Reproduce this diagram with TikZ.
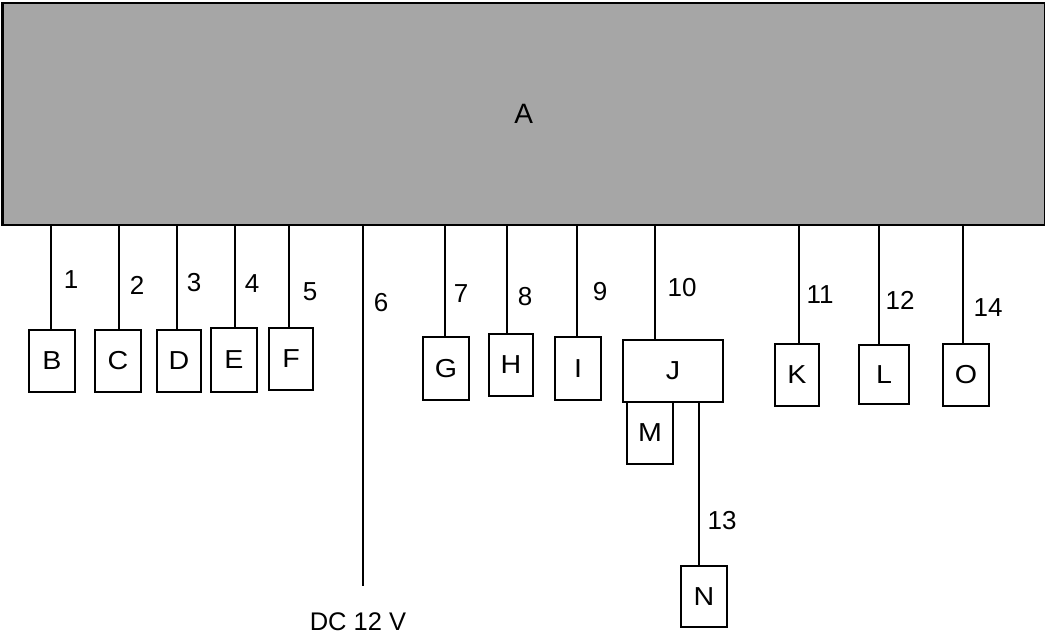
\documentclass[tikz,border=0pt]{standalone}
\usepackage{fontspec}
\setmainfont{Liberation Sans}
\newfontfamily\boxfont[FakeStretch=1.1]{Liberation Sans}
\definecolor{boxgray}{HTML}{A6A6A6}
\tikzset{
  wire/.style={line width=2pt},
  unit/.style={draw, line width=2pt, fill=white, inner sep=0pt,
    font=\boxfont\fontsize{26}{26}\selectfont},
  num/.style={inner sep=0pt, font=\fontsize{26}{26}\selectfont},
  supply/.style={inner sep=0pt, font=\fontsize{25.5}{25.5}\selectfont},
  mainbox/.style={draw, line width=2.2pt, fill=boxgray, inner sep=0pt,
    font=\fontsize{28}{28}\selectfont}
}
\begin{document}
\begin{tikzpicture}[x=1pt,y=-1pt]
\useasboundingbox (0,0) rectangle (1045,635);
\node[mainbox, anchor=north west, minimum width=1042.3pt, minimum height=222pt] (A) at (1.5,1.5) {A};

% boxes
\node[unit, minimum width=46pt, minimum height=62pt] (B) at (52,361) {B};
\node[unit, minimum width=46pt, minimum height=62pt] (C) at (118,361) {C};
\node[unit, minimum width=44pt, minimum height=62pt] (D) at (179,361) {D};
\node[unit, minimum width=46pt, minimum height=64pt] (E) at (234,360) {E};
\node[unit, minimum width=44pt, minimum height=62pt] (F) at (291,359) {F};
\node[unit, minimum width=46pt, minimum height=63pt] (G) at (446,368.5) {G};
\node[unit, minimum width=44pt, minimum height=62pt] (H) at (511,365) {H};
\node[unit, minimum width=46pt, minimum height=63pt] (I) at (578,368.5) {I};
\node[unit, minimum width=100pt, minimum height=62pt] (J) at (673,371) {J};
\node[unit, minimum width=46pt, minimum height=62pt] (M) at (650,433) {M};
\node[unit, minimum width=46pt, minimum height=61pt] (N) at (704,596.5) {N};
\node[unit, minimum width=44pt, minimum height=62pt] (K) at (797,375) {K};
\node[unit, minimum width=50pt, minimum height=59pt] (L) at (884,374.5) {L};
\node[unit, minimum width=46pt, minimum height=62pt] (O) at (966,375) {O};

% connector anchor points
\coordinate (pB) at ([xshift=-1pt]B.north);
\coordinate (pC) at ([xshift=1pt]C.north);
\coordinate (pD) at ([xshift=-2pt]D.north);
\coordinate (pE) at ([xshift=1pt]E.north);
\coordinate (pF) at ([xshift=-2pt]F.north);
\coordinate (pG) at ([xshift=-1pt]G.north);
\coordinate (pH) at ([xshift=-4pt]H.north);
\coordinate (pI) at ([xshift=-1pt]I.north);
\coordinate (pJ) at ([xshift=-18pt]J.north);
\coordinate (pK) at ([xshift=2pt]K.north);
\coordinate (pL) at ([xshift=-5pt]L.north);
\coordinate (pO) at ([xshift=-3pt]O.north);
\coordinate (pN) at ([xshift=-5pt]N.north);
\coordinate (p6) at (363,586);

\foreach \p in {pB,pC,pD,pE,pF,pG,pH,pI,pJ,pK,pL,pO,p6}
  \draw[wire] (\p |- A.south) -- (\p);
\draw[wire] (pN |- J.south) -- (pN);

% labels
\node[num] (l1) at (71,280) {1};
\node[num] (l2) at (137,285) {2};
\node[num] (l3) at (194,283) {3};
\node[num] (l4) at (252,284) {4};
\node[num] (l5) at (310,292) {5};
\node[num] (l6) at (381,303) {6};
\node[num] (l7) at (461,294) {7};
\node[num] (l8) at (525,297) {8};
\node[num] (l9) at (600,292) {9};
\node[num] (l10) at (682,288) {10};
\node[num] (l11) at (820,295) {11};
\node[num] (l12) at (900,300) {12};
\node[num] (l14) at (988,308) {14};
\node[num] (l13) at (722,521) {13};
\node[supply] (dc) at (358,622) {DC 12 V};
\end{tikzpicture}
\end{document}
